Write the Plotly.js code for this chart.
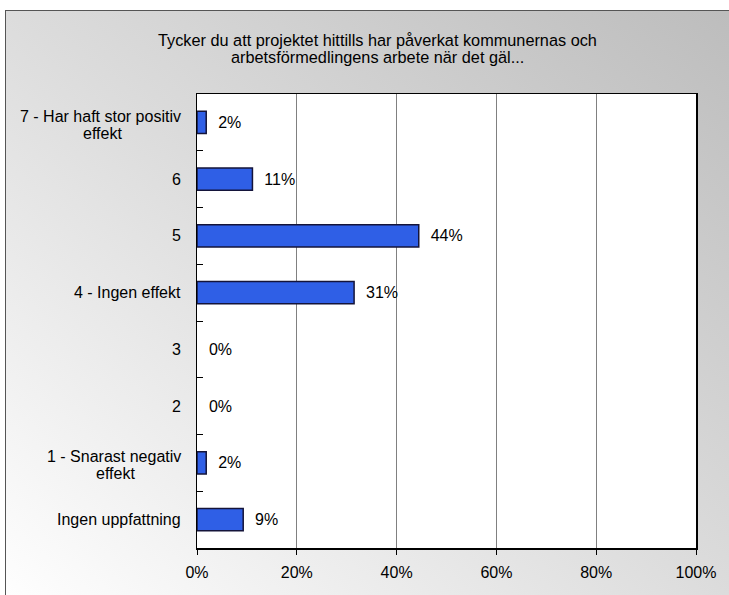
<!DOCTYPE html>
<html>
<head>
<meta charset="utf-8">
<script src="https://cdn.plot.ly/plotly-3.0.1.min.js"></script>
<style>
  html, body { margin: 0; padding: 0; background: #ffffff; }
  #wrap { position: relative; width: 729px; height: 595px; overflow: hidden; background: #ffffff; }
  #frame { position: absolute; left: 5px; top: 10px; width: 740px; height: 600px;
           border-left: 1px solid #555; border-top: 1px solid #555;
           background: linear-gradient(to top right, #ffffff 0%, #dcdcdc 50%, #bcbcbc 100%); }
  #chart { position: absolute; left: 0; top: 0; width: 729px; height: 595px; }
</style>
</head>
<body>
<div id="wrap">
  <div id="frame"></div>
  <div id="chart"></div>
</div>
<script>
const categories = [
  "7 - Har haft stor positiv<br>effekt",
  "6",
  "5",
  "4 - Ingen effekt",
  "3",
  "2",
  "1 - Snarast negativ<br>effekt",
  "Ingen uppfattning"
];
const values = [1.85, 11.11, 44.44, 31.48, 0, 0, 1.85, 9.26];
const xTickVals = [0, 20, 40, 60, 80, 100];
const xTickText = ["0%", "20%", "40%", "60%", "80%", "100%"];
const titleLines = [
  "Tycker du att projektet hittills har påverkat kommunernas och",
  "arbetsförmedlingens arbete när det gäl..."
];

const font = "Liberation Sans, Arial, sans-serif";
const labelSize = 16;
const idx = categories.map((c, i) => i);

const ctx = document.createElement("canvas").getContext("2d");
ctx.font = labelSize + "px 'Liberation Sans', Arial, sans-serif";

const trace = {
  type: "bar",
  orientation: "h",
  y: idx,
  x: values,
  width: 0.39,
  marker: { color: "#2f5fe6", line: { color: "#14143a", width: values.map(v => v > 0 ? 1.5 : 0) } },
  text: values.map(v => "\u00a0\u00a0" + Math.round(v) + "%"),
  textposition: "outside",
  textfont: { family: font, size: 16, color: "#000" },
  cliponaxis: false,
  hoverinfo: "skip"
};

const annotations = [];
categories.forEach((c, i) => {
  const lines = c.split("<br>");
  if (lines.length === 1) {
    annotations.push({
      xref: "paper", yref: "y", x: 0, y: i,
      xanchor: "right", yanchor: "middle", xshift: -14,
      text: c, showarrow: false,
      font: { family: font, size: labelSize, color: "#000" }
    });
  } else {
    const w1 = ctx.measureText(lines[0]).width;
    annotations.push({
      xref: "paper", yref: "y", x: 0, y: i,
      xanchor: "right", yanchor: "middle", xshift: -14, yshift: 6,
      text: lines[0], showarrow: false,
      font: { family: font, size: labelSize, color: "#000" }
    });
    annotations.push({
      xref: "paper", yref: "y", x: 0, y: i,
      xanchor: "center", yanchor: "middle", xshift: -14 - w1 / 2, yshift: -11,
      text: lines[1], showarrow: false,
      font: { family: font, size: labelSize, color: "#000" }
    });
  }
});

// title lines
titleLines.forEach((t, k) => {
  annotations.push({
    xref: "paper", yref: "paper",
    x: (377.5 - 197) / 499,
    y: k === 0 ? (548 - 40) / 454 : (548 - 57) / 454,
    xanchor: "center", yanchor: "middle",
    text: t, showarrow: false,
    font: { family: font, size: 16.3, color: "#000" }
  });
});

const layout = {
  width: 729, height: 595,
  paper_bgcolor: "rgba(0,0,0,0)",
  plot_bgcolor: "#ffffff",
  margin: { l: 197, r: 33, t: 94, b: 47 },
  showlegend: false,
  xaxis: {
    range: [0, 100],
    tickvals: xTickVals,
    ticktext: xTickText,
    ticks: "outside", ticklen: 5, tickcolor: "#000",
    showgrid: true, gridcolor: "#808080", gridwidth: 1,
    showline: true, linecolor: "#000", linewidth: 1.5, mirror: true,
    zeroline: false,
    ticklabelstandoff: 4,
    tickfont: { family: font, size: 16, color: "#000" },
    fixedrange: true
  },
  yaxis: {
    range: [categories.length - 0.5, -0.5],
    tickvals: idx.slice(0, -1).map(i => i + 0.5),
    showticklabels: false,
    ticks: "inside", ticklen: 6, tickcolor: "#000",
    showgrid: false,
    showline: true, linecolor: "#000", linewidth: 1.5, mirror: true,
    zeroline: false,
    fixedrange: true
  },
  annotations: annotations
};

Plotly.newPlot("chart", [trace], layout, { displayModeBar: false, staticPlot: true });
</script>
</body>
</html>
